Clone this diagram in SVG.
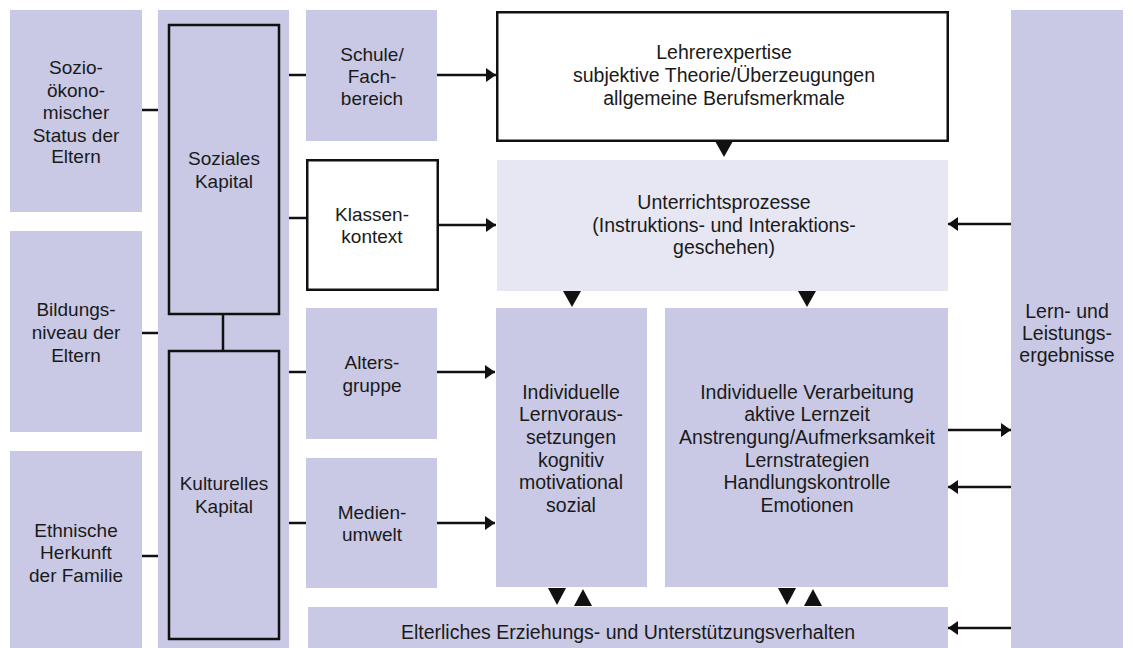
<svg xmlns="http://www.w3.org/2000/svg" width="1133" height="648" viewBox="0 0 1133 648">
<defs>
<style>
.lav{fill:#c9c9e5}
.pale{fill:#e7e7f3}
.wb{fill:#ffffff;stroke:#111;stroke-width:2.5}
.lb{fill:#c9c9e5;stroke:#111;stroke-width:2.5}
.t{font-family:"Liberation Sans",Arial,sans-serif;font-size:19px;fill:#1a1a1a;text-anchor:middle}
.r{font-family:"Liberation Sans",Arial,sans-serif;font-size:19.5px;fill:#1a1a1a;text-anchor:middle}
.c{stroke:#111;stroke-width:2.5;fill:none}
.tri{fill:#111}
</style>
<marker id="ah" viewBox="0 0 10 14" refX="10" refY="7" markerWidth="10" markerHeight="14" markerUnits="userSpaceOnUse" orient="auto">
<path d="M0,0 L10,7 L0,14 z" fill="#111"/>
</marker>
</defs>
<rect width="1133" height="648" fill="#ffffff"/>

<g id="sozio">
<rect class="lav" x="10" y="10" width="132" height="202"/>
<text class="t" x="76" y="74">Sozio-</text>
<text class="t" x="76" y="97">ökono-</text>
<text class="t" x="76" y="119">mischer</text>
<text class="t" x="76" y="142">Status der</text>
<text class="t" x="76" y="163">Eltern</text>
</g>
<g id="bildung">
<rect class="lav" x="10" y="231" width="132" height="201"/>
<text class="t" x="76" y="316">Bildungs-</text>
<text class="t" x="76" y="339">niveau der</text>
<text class="t" x="76" y="362">Eltern</text>
</g>
<g id="ethnisch">
<rect class="lav" x="10" y="451" width="132" height="197"/>
<text class="t" x="76" y="537">Ethnische</text>
<text class="t" x="76" y="559">Herkunft</text>
<text class="t" x="76" y="582">der Familie</text>
</g>
<g id="kapital">
<rect class="lav" x="158" y="10" width="131" height="638"/>
</g>
<g id="sozial">
<rect class="lb" x="169" y="25" width="110" height="289"/>
<text class="t" x="224" y="165">Soziales</text>
<text class="t" x="224" y="188">Kapital</text>
</g>
<g id="kulturell">
<rect class="lb" x="169" y="351" width="110" height="288"/>
<text class="t" x="224" y="490">Kulturelles</text>
<text class="t" x="224" y="513">Kapital</text>
</g>
<g id="schule">
<rect class="lav" x="306" y="10" width="131" height="131"/>
<text class="t" x="372" y="61">Schule/</text>
<text class="t" x="372" y="83">Fach-</text>
<text class="t" x="372" y="105">bereich</text>
</g>
<g id="klasse">
<rect class="wb" x="307.25" y="160.25" width="130.5" height="129.5"/>
<text class="t" x="372" y="221">Klassen-</text>
<text class="t" x="372" y="243">kontext</text>
</g>
<g id="alter">
<rect class="lav" x="306" y="308" width="131" height="131"/>
<text class="t" x="372" y="369">Alters-</text>
<text class="t" x="372" y="392">gruppe</text>
</g>
<g id="medien">
<rect class="lav" x="306" y="458" width="131" height="130"/>
<text class="t" x="372" y="519">Medien-</text>
<text class="t" x="372" y="541">umwelt</text>
</g>
<g id="lehrer">
<rect class="wb" x="497.25" y="12.25" width="450.5" height="128.5"/>
<text class="r" x="724" y="59">Lehrerexpertise</text>
<text class="r" x="724" y="82">subjektive Theorie/Überzeugungen</text>
<text class="r" x="724" y="105">allgemeine Berufsmerkmale</text>
</g>
<g id="unterricht">
<rect class="pale" x="497" y="160" width="451" height="131"/>
<text class="r" x="724" y="209">Unterrichtsprozesse</text>
<text class="r" x="724" y="232">(Instruktions- und Interaktions-</text>
<text class="r" x="724" y="254">geschehen)</text>
</g>
<g id="voraus">
<rect class="lav" x="496" y="308" width="151" height="279"/>
<text class="r" x="571" y="399">Individuelle</text>
<text class="r" x="571" y="421">Lernvoraus-</text>
<text class="r" x="571" y="444">setzungen</text>
<text class="r" x="571" y="467">kognitiv</text>
<text class="r" x="571" y="489">motivational</text>
<text class="r" x="571" y="512">sozial</text>
</g>
<g id="verarbeitung">
<rect class="lav" x="665" y="308" width="283" height="279"/>
<text class="r" x="807" y="399">Individuelle Verarbeitung</text>
<text class="r" x="807" y="421">aktive Lernzeit</text>
<text class="r" x="807" y="444">Anstrengung/Aufmerksamkeit</text>
<text class="r" x="807" y="467">Lernstrategien</text>
<text class="r" x="807" y="489">Handlungskontrolle</text>
<text class="r" x="807" y="512">Emotionen</text>
</g>
<g id="eltern">
<rect class="lav" x="308" y="607" width="640" height="41"/>
<text class="r" x="628" y="639">Elterliches Erziehungs- und Unterstützungsverhalten</text>
</g>
<g id="ergebnis">
<rect class="lav" x="1011" y="10" width="112" height="638"/>
<text class="r" x="1067" y="318">Lern- und</text>
<text class="r" x="1067" y="340">Leistungs-</text>
<text class="r" x="1067" y="362">ergebnisse</text>
</g>

<g id="connectors">
<line class="c" x1="142" y1="110" x2="158" y2="110"/>
<line class="c" x1="142" y1="333" x2="158" y2="333"/>
<line class="c" x1="142" y1="556" x2="158" y2="556"/>
<line class="c" x1="289" y1="75" x2="306" y2="75"/>
<line class="c" x1="289" y1="218" x2="307" y2="218"/>
<line class="c" x1="289" y1="372" x2="306" y2="372"/>
<line class="c" x1="289" y1="523" x2="306" y2="523"/>
<line class="c" x1="223" y1="314" x2="223" y2="351"/>
<line class="c" x1="437" y1="75" x2="496" y2="75" marker-end="url(#ah)"/>
<line class="c" x1="438" y1="225" x2="496" y2="225" marker-end="url(#ah)"/>
<line class="c" x1="437" y1="372" x2="495" y2="372" marker-end="url(#ah)"/>
<line class="c" x1="437" y1="523" x2="495" y2="523" marker-end="url(#ah)"/>
<line class="c" x1="1011" y1="224" x2="948" y2="224" marker-end="url(#ah)"/>
<line class="c" x1="948" y1="430" x2="1011" y2="430" marker-end="url(#ah)"/>
<line class="c" x1="1011" y1="487" x2="948" y2="487" marker-end="url(#ah)"/>
<line class="c" x1="1011" y1="628" x2="948" y2="628" marker-end="url(#ah)"/>
<polygon class="tri" points="715,141 733,141 724,157"/>
<polygon class="tri" points="563,291 581,291 572,307"/>
<polygon class="tri" points="798,291 816,291 807,307"/>
<polygon class="tri" points="548,588 566,588 557,605"/>
<polygon class="tri" points="574,606 592,606 583,589"/>
<polygon class="tri" points="778,588 796,588 787,605"/>
<polygon class="tri" points="804,606 822,606 813,589"/>
</g>
</svg>
